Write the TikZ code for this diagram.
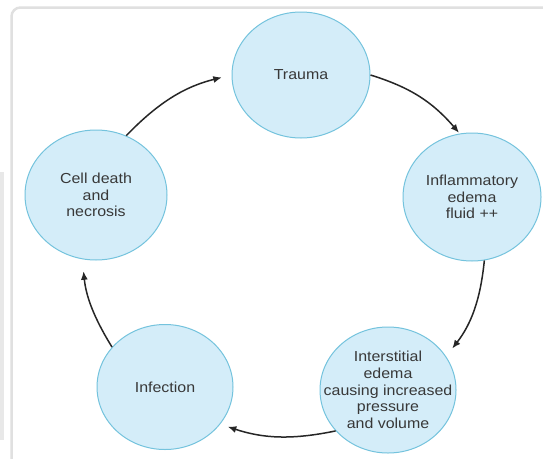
\documentclass[tikz,border=0pt]{standalone}
\usepackage{fontspec}
\setmainfont[FakeStretch=1.1]{Liberation Sans}
\usetikzlibrary{shapes.geometric,arrows.meta}
\definecolor{bubblefill}{HTML}{D4EDF9}
\definecolor{bubbleedge}{HTML}{74C3DD}
\definecolor{inkgray}{HTML}{383838}
\definecolor{arrowink}{HTML}{262626}
\begin{document}
\begin{tikzpicture}[x=1pt,y=-1pt,
  bubble/.style={ellipse, draw=bubbleedge, fill=bubblefill, line width=1pt, inner sep=0pt},
  txt/.style={text=inkgray, align=center, font=\fontsize{14.5}{16.7}\selectfont, inner sep=0pt},
  cyc/.style={draw=arrowink, line width=1.5pt, -{Latex[length=8.5pt,width=7pt]}, shorten >=10pt}]
  \useasboundingbox (0,0) rectangle (543,458);
  % page and panel frame
  \fill[white] (0,0) rectangle (543,458);
  \fill[black!9] (0,172) rectangle (4,440);
  \draw[black!12, line width=2.5pt, rounded corners=9pt] (11.5,470) -- (11.5,7.5) -- (560,7.5);
  \fill[white, rounded corners=8pt] (13,9) rectangle (560,470);

  % cycle stages
  \node[bubble, minimum width=138pt, minimum height=126pt,
        label={[txt]center:Trauma}] (trauma) at (301,75) {};
  \node[bubble, minimum width=138pt, minimum height=128pt,
        label={[txt]center:Inflammatory\\edema\\fluid ++}] (inflam) at (472,197) {};
  \node[bubble, minimum width=136pt, minimum height=126pt,
        label={[txt]center:Interstitial\\edema\\causing increased\\pressure\\and volume}] (inter) at (388,390) {};
  \node[bubble, minimum width=136pt, minimum height=125pt,
        label={[txt]center:Infection}] (infect) at (165,387) {};
  \node[bubble, minimum width=142pt, minimum height=130pt,
        label={[txt]center:Cell death\\and\\necrosis}] (cell) at (96,195) {};

  % connectors, clockwise
  \draw[cyc] (cell.63) to[bend left=16] (trauma.180);
  \draw[cyc, shorten >=1pt] (trauma.0) to[bend left=16] (inflam.101);
  \draw[cyc] (inflam.-79) to[bend left=16] (inter.30);
  \draw[cyc, shorten >=8pt] (inter.218) to[bend left=15] (infect.-34);
  \draw[cyc, shorten >=12pt] (infect.143) to[bend left=13] (cell.258);
\end{tikzpicture}
\end{document}
